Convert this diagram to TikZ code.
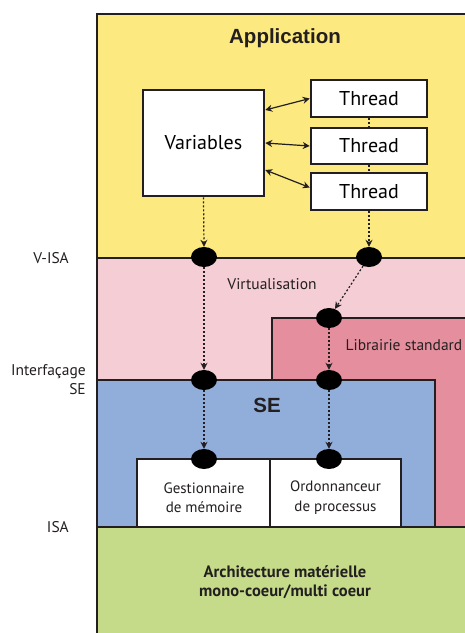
\documentclass[tikz,border=0pt]{standalone}
\usepackage{fontspec}
\setmainfont{PT Sans}
\newfontfamily\hfont{Liberation Sans}
\usetikzlibrary{arrows.meta,shapes.geometric}
\definecolor{appyellow}{RGB}{252,233,127}
\definecolor{virtpink}{RGB}{244,205,213}
\definecolor{libpink}{RGB}{229,142,157}
\definecolor{seblue}{RGB}{145,173,218}
\definecolor{hwgreen}{RGB}{197,219,138}
\definecolor{ink}{RGB}{35,31,32}
\begin{document}
\begin{tikzpicture}[x=1pt,y=-1pt,
  region/.style={draw=ink,line width=2.5pt},
  wbox/.style={draw=ink,line width=2.5pt,fill=white,inner sep=0pt,font=\fontsize{20}{24}\selectfont},
  sbox/.style={draw=ink,line width=2.5pt,fill=white,inner sep=0pt},
  stext/.style={align=center,inner sep=0pt,text=ink,font=\fontsize{15}{19.5}\selectfont},
  pt/.style={ellipse,fill=black,inner sep=0pt,minimum width=26pt,minimum height=20pt},
  flow/.style={ink,line width=1.2pt,dash pattern=on 2pt off 2pt,-{Stealth[length=7pt,width=7pt]}},
  link/.style={ink,line width=1.2pt,{Stealth[length=7pt,width=7pt]}-{Stealth[length=7pt,width=7pt]}},
  guide/.style={ink,line width=1.2pt,dash pattern=on 2pt off 2pt},
  side/.style={anchor=east,align=right,inner sep=0pt,font=\fontsize{15.5}{19}\selectfont,text=ink}
]
\useasboundingbox (0,0) rectangle (465,633);
\begin{scope}
\clip (0,0) rectangle (465,633);
\filldraw[region,fill=appyellow] (97,14) rectangle (490,258);
\filldraw[region,fill=virtpink] (97,258) rectangle (490,380);
\filldraw[region,fill=libpink] (272,318) rectangle (490,527);
\filldraw[region,fill=seblue] (97,380) rectangle (435,527);
\filldraw[region,fill=hwgreen] (97,527) rectangle (490,660);
\end{scope}

% titles
\node[font=\hfont\bfseries\fontsize{20.5}{24}\selectfont,text=ink] (tapp) at (285,38) {Application};
\node[font=\fontsize{15.5}{19}\selectfont,text=ink] (tvirt) at (272,284) {Virtualisation};
\node[font=\fontsize{15.5}{19}\selectfont,text=ink] (tlib) at (404,345) {Librairie standard};
\node[font=\hfont\bfseries\fontsize{20.5}{24}\selectfont,text=ink] (tse) at (267,405) {SE};
\node[font=\bfseries\fontsize{16.5}{19.5}\selectfont,text=ink,align=center] (thw) at (285,582) {Architecture matérielle\\mono-coeur/multi coeur};

% side labels
\node[side] (lvisa) at (69,258) {V-ISA};
\node[side] (lse) at (86,380) {Interfaçage\\SE};
\node[side] (lisa) at (69,527) {ISA};

% application boxes
\node[wbox,minimum width=121pt,minimum height=106pt] (var) at (203.5,143) {Variables};
\node[wbox,minimum width=116pt,minimum height=37pt] (th1) at (369,98.5) {Thread};
\node[wbox,minimum width=116pt,minimum height=36pt] (th2) at (369,146) {Thread};
\node[wbox,minimum width=116pt,minimum height=37pt] (th3) at (369,191.5) {Thread};

% OS boxes
\node[sbox,minimum width=133pt,minimum height=68pt] (mem) at (203.5,493) {};
\node[sbox,minimum width=131pt,minimum height=68pt] (sched) at (335.5,493) {};
\node[stext] (memt) at (204,497.5) {Gestionnaire\\de mémoire};
\node[stext] (schedt) at (335.5,497.5) {Ordonnanceur\\de processus};

% interface points
\node[pt] (p1) at (204,257) {};
\node[pt] (p2) at (369,257) {};
\node[pt] (p3) at (329,318) {};
\node[pt] (p4) at (204,380) {};
\node[pt] (p5) at (329,380) {};
\node[pt] (p6) at (204,459) {};
\node[pt] (p7) at (329,459) {};

% connectors
\draw[link] ([yshift=33pt]var.east) -- (th1.west);
\draw[link] (var.east) -- (th2.west);
\draw[link] ([yshift=-27pt]var.east) -- ([yshift=4pt]th3.west);
\draw[guide] (th1.south) -- (th2.north);
\draw[guide] (th2.south) -- (th3.north);
\draw[flow] (var.south) -- (p1.north);
\draw[flow] (th3.south) -- (p2.north);
\draw[flow] (p2) -- (p3);
\draw[flow] (p1) -- (p4.north);
\draw[flow] (p3) -- (p5.north);
\draw[flow] (p4) -- (p6.north);
\draw[flow] (p5) -- (p7.north);
\end{tikzpicture}
\end{document}
